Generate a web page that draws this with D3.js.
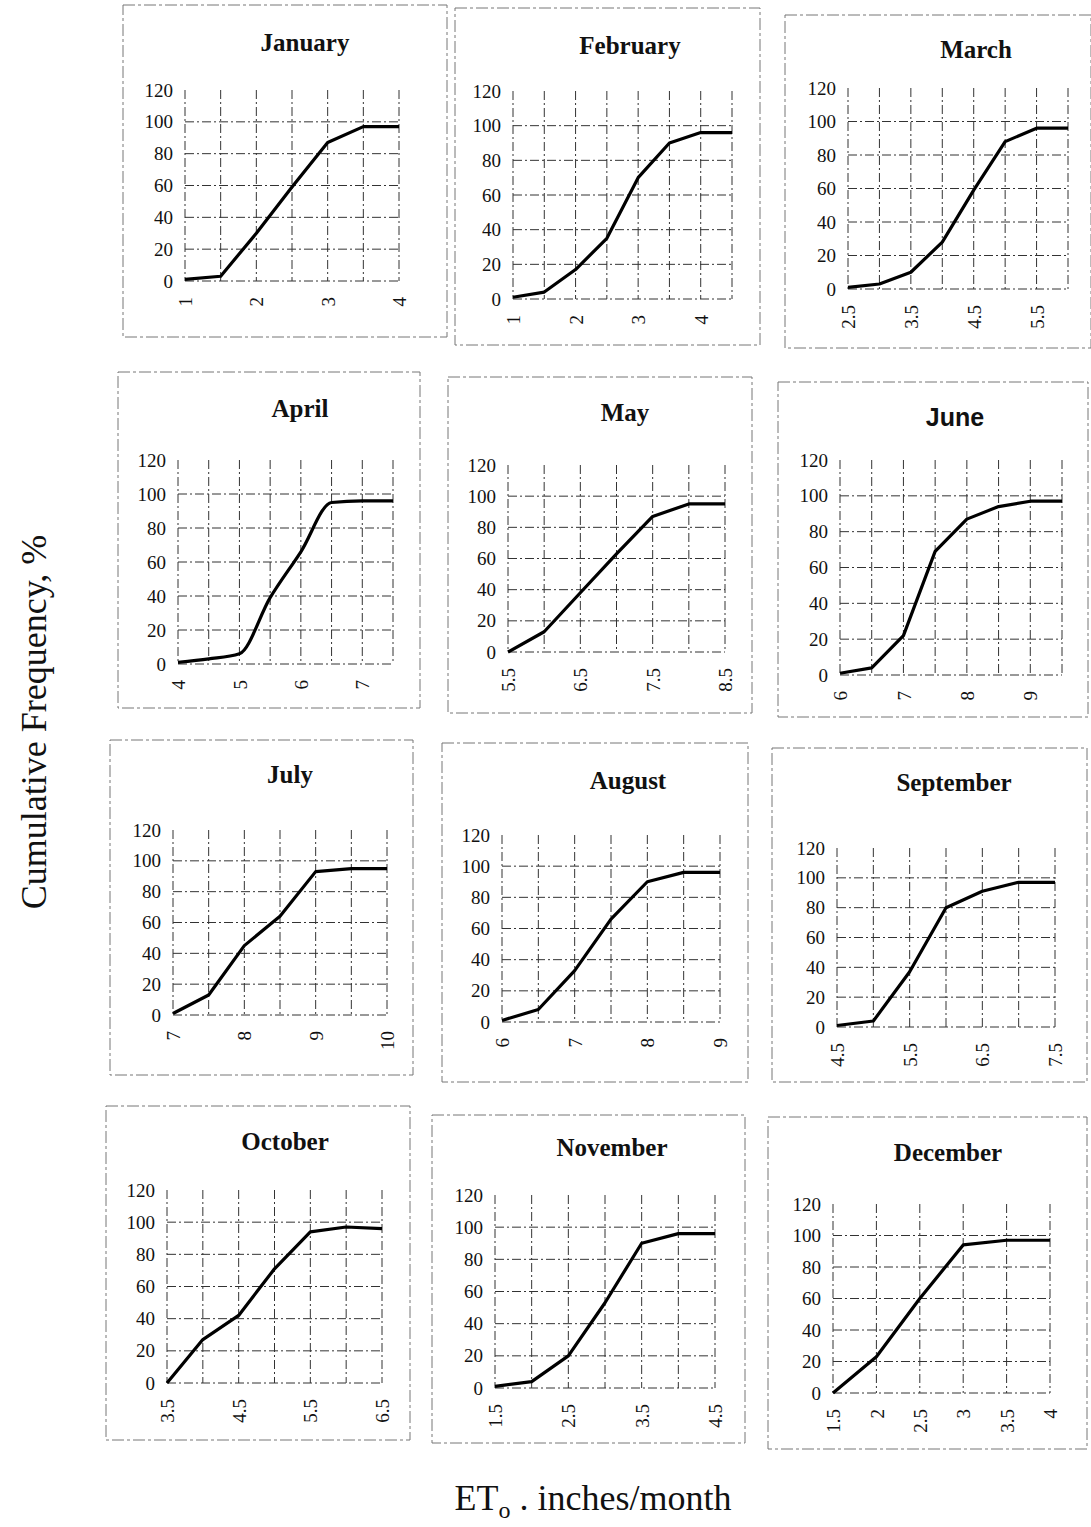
<!DOCTYPE html>
<html>
<head>
<meta charset="utf-8">
<script src="https://cdn.jsdelivr.net/npm/d3@7"></script>
<style>
  body { margin: 0; background: #fff; }
  svg text { font-family: "Liberation Serif", "Times New Roman", serif; fill: #111; }
</style>
</head>
<body>
<svg id="chart" width="1091" height="1527"></svg>
<script>
const months = ["January", "February", "March", "April", "May", "June",
                "July", "August", "September", "October", "November", "December"];

// ET_o (inches/month) at each plotted point
const etValues = [
  [1, 1.5, 2, 2.5, 3, 3.5, 4],
  [1, 1.5, 2, 2.5, 3, 3.5, 4, 4.5],
  [2.5, 3, 3.5, 4, 4.5, 5, 5.5, 6],
  [4, 4.5, 5, 5.5, 6, 6.5, 7, 7.5],
  [5.5, 6, 6.5, 7, 7.5, 8, 8.5],
  [6, 6.5, 7, 7.5, 8, 8.5, 9, 9.5],
  [7, 7.5, 8, 8.5, 9, 9.5, 10],
  [6, 6.5, 7, 7.5, 8, 8.5, 9],
  [4.5, 5, 5.5, 6, 6.5, 7, 7.5],
  [3.5, 4, 4.5, 5, 5.5, 6, 6.5],
  [1.5, 2, 2.5, 3, 3.5, 4, 4.5],
  [1.5, 2, 2.5, 3, 3.5, 4]
];

// cumulative frequency, %
const cumFreq = [
  [1, 3, 30, 59, 87, 97, 97],
  [1, 4, 17, 35, 70, 90, 96, 96],
  [1, 3, 10, 28, 59, 88, 96, 96],
  [1, 3, 6, 39, 66, 95, 96, 96],
  [0, 13, 38, 63, 87, 95, 95],
  [1, 4, 22, 69, 87, 94, 97, 97],
  [1, 13, 45, 64, 93, 95, 95],
  [1, 8, 33, 66, 90, 96, 96],
  [1, 4, 37, 80, 91, 97, 97],
  [0, 27, 42, 71, 94, 97, 96],
  [1, 4, 20, 53, 90, 96, 96],
  [0, 23, 60, 94, 97, 97]
];

const xTickLabels = [
  [1, 2, 3, 4],
  [1, 2, 3, 4],
  [2.5, 3.5, 4.5, 5.5],
  [4, 5, 6, 7],
  [5.5, 6.5, 7.5, 8.5],
  [6, 7, 8, 9],
  [7, 8, 9, 10],
  [6, 7, 8, 9],
  [4.5, 5.5, 6.5, 7.5],
  [3.5, 4.5, 5.5, 6.5],
  [1.5, 2.5, 3.5, 4.5],
  [1.5, 2, 2.5, 3, 3.5, 4]
];

const yTicks = [0, 20, 40, 60, 80, 100, 120];
const yGrid = [0, 20, 40, 60, 80, 100];

// where each pasted-in panel sits on the page: frame box, plot box, title centre
const panels = [
  {frame: [123, 5, 447, 337],    plot: [185, 90, 399, 281],    title: [305, 42]},
  {frame: [455, 8, 760, 345],    plot: [513, 91, 732, 299],    title: [630, 45]},
  {frame: [785, 15, 1091, 348],  plot: [848, 88, 1068, 289],   title: [976, 49]},
  {frame: [118, 372, 420, 708],  plot: [178, 460, 393, 664],   title: [300, 408]},
  {frame: [448, 377, 752, 713],  plot: [508, 465, 725, 652],   title: [625, 412]},
  {frame: [778, 382, 1088, 717], plot: [840, 460, 1062, 675],  title: [955, 417]},
  {frame: [110, 740, 413, 1075], plot: [173, 830, 387, 1015],  title: [290, 774]},
  {frame: [442, 743, 748, 1082], plot: [502, 835, 720, 1022],  title: [628, 780]},
  {frame: [772, 748, 1087, 1082],plot: [837, 848, 1055, 1027], title: [954, 782]},
  {frame: [106, 1106, 410, 1440],plot: [167, 1190, 382, 1383], title: [285, 1141]},
  {frame: [432, 1115, 745, 1443],plot: [495, 1195, 715, 1388], title: [612, 1147]},
  {frame: [768, 1117, 1087, 1449],plot: [833, 1204, 1050, 1393], title: [948, 1152]}
];

const svg = d3.select("#chart");
svg.append("rect").attr("width", 1091).attr("height", 1527).attr("fill", "#fff");

months.forEach((name, i) => {
  const p = panels[i];
  const xs = etValues[i];
  const data = xs.map((x, j) => ({x: x, y: cumFreq[i][j]}));
  const [left, top, right, bottom] = p.plot;

  svg.append("rect")
    .attr("x", p.frame[0]).attr("y", p.frame[1])
    .attr("width", p.frame[2] - p.frame[0]).attr("height", p.frame[3] - p.frame[1])
    .attr("fill", "none").attr("stroke", "#777").attr("stroke-width", 1)
    .attr("stroke-dasharray", "12,3,3,3");

  svg.append("text")
    .attr("x", p.title[0]).attr("y", p.title[1])
    .attr("text-anchor", "middle").attr("dominant-baseline", "central")
    .attr("font-size", 25).attr("font-weight", "bold")
    .style("font-family", name === "June" ? "'Liberation Sans', Arial, sans-serif" : null)
    .text(name);

  const xScale = d3.scaleLinear().domain([xs[0], xs[xs.length - 1]]).range([left, right]);
  const yScale = d3.scaleLinear().domain([0, 120]).range([bottom, top]);

  const grid = svg.append("g")
    .attr("stroke", "#333").attr("stroke-width", 1).attr("stroke-dasharray", "9,3,2,3");
  grid.selectAll(".vg").data(xs).enter().append("line")
    .attr("x1", d => xScale(d)).attr("x2", d => xScale(d))
    .attr("y1", yScale(120)).attr("y2", yScale(0));
  grid.selectAll(".hg").data(yGrid).enter().append("line")
    .attr("x1", xScale.range()[0]).attr("x2", xScale.range()[1])
    .attr("y1", d => yScale(d)).attr("y2", d => yScale(d));

  const yAxis = svg.append("g").attr("transform", `translate(${left},0)`)
    .call(d3.axisLeft(yScale).tickValues(yTicks).tickSize(0).tickPadding(12));
  yAxis.select(".domain").remove();
  yAxis.selectAll("text").attr("font-size", 19).attr("fill", "#111")
    .style("font-family", "'Liberation Serif', serif");

  const xAxis = svg.append("g").attr("transform", `translate(0,${bottom})`)
    .call(d3.axisBottom(xScale).tickValues(xTickLabels[i]).tickSize(0).tickFormat(d => String(d)));
  xAxis.select(".domain").remove();
  xAxis.selectAll("text")
    .attr("font-size", 19).attr("fill", "#111")
    .style("font-family", "'Liberation Serif', serif")
    .attr("transform", "rotate(-90)")
    .attr("text-anchor", "end")
    .attr("x", -16).attr("y", 0).attr("dy", "0.35em");

  const line = d3.line()
    .x(d => xScale(d.x)).y(d => yScale(d.y))
    .curve(name === "April" ? d3.curveMonotoneX : d3.curveLinear);
  svg.append("path").datum(data)
    .attr("fill", "none").attr("stroke", "#000").attr("stroke-width", 3.2)
    .attr("stroke-linejoin", "round").attr("d", line);
});

svg.append("text")
  .attr("transform", "translate(46,722) rotate(-90)")
  .attr("text-anchor", "middle").attr("font-size", 36)
  .text("Cumulative Frequency, %");

const xl = svg.append("text")
  .attr("x", 593).attr("y", 1510)
  .attr("text-anchor", "middle").attr("font-size", 36);
xl.append("tspan").text("ET");
xl.append("tspan").attr("font-size", 24).attr("dy", 8).text("o");
xl.append("tspan").attr("dy", -8).text(" . inches/month");
</script>
</body>
</html>
